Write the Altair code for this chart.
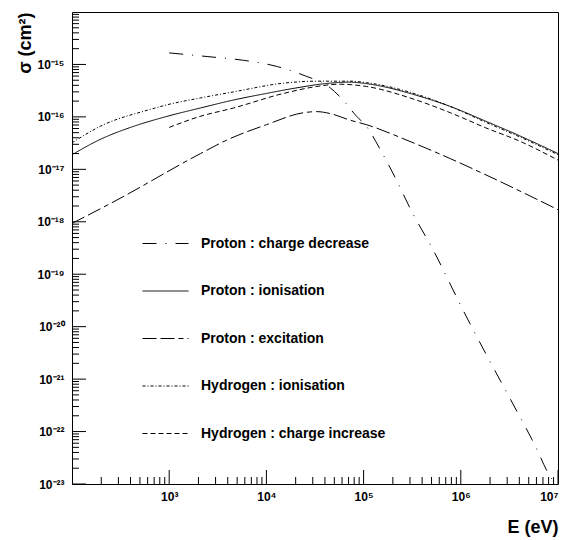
import altair as alt
import pandas as pd

# ---------------- data ----------------
series_names = [
    "Proton : charge decrease",
    "Proton : ionisation",
    "Proton : excitation",
    "Hydrogen : ionisation",
    "Hydrogen : charge increase",
]

# Proton : charge decrease
cd_E = [1e3, 2.5e3, 5.8e3, 1.3e4, 2.6e4, 4.2e4, 6e4, 8.5e4, 1.07e5, 1.5e5,
        2.0e5, 3.2e5, 5.2e5, 1.05e6, 1.8e6, 3.4e6, 5.9e6, 8.1e6, 9.5e6]
cd_sigma = [1.66e-15, 1.41e-15, 1.20e-15, 9.1e-16, 5.9e-16, 4.0e-16, 2.2e-16,
            1.02e-16, 6.6e-17, 2.3e-17, 8.5e-18, 1.45e-18, 2.9e-19, 2.1e-20,
            3.1e-21, 3.5e-22, 5.1e-23, 1.5e-23, 1.0e-23]

# Proton : ionisation
pi_E = [1e2, 2e2, 4e2, 1e3, 2.1e3, 4.6e3, 1e4, 2e4, 4e4, 7e4, 1.07e5, 1.8e5,
        3e5, 7.8e5, 1.8e6, 4.1e6, 1e7]
pi_sigma = [1.9e-17, 3.8e-17, 6.3e-17, 1.05e-16, 1.48e-16, 2.1e-16, 2.8e-16,
            3.55e-16, 4.3e-16, 4.6e-16, 4.3e-16, 3.6e-16, 2.8e-16, 1.58e-16,
            8.3e-17, 4.3e-17, 2.0e-17]

# Proton : excitation
pe_E = [1e2, 2.9e2, 2.1e3, 3.9e3, 1e4, 2.4e4, 3.3e4, 4.6e4, 7.2e4, 1.07e5,
        3e5, 7.8e5, 2e6, 1e7]
pe_sigma = [9.3e-19, 2.6e-18, 2.0e-17, 3.6e-17, 7.1e-17, 1.2e-16, 1.26e-16,
            1.15e-16, 8.7e-17, 7.1e-17, 3.4e-17, 1.6e-17, 7.2e-18, 1.7e-18]

# Hydrogen : ionisation
hi_E = [1e2, 1.95e2, 6.3e2, 9.5e2, 2.1e3, 4.6e3, 1.5e4, 3.3e4, 7.2e4, 1.07e5,
        3e5, 7.8e5, 1.8e6, 4.1e6, 1e7]
hi_sigma = [3.2e-17, 6.6e-17, 1.38e-16, 1.7e-16, 2.3e-16, 3.0e-16, 4.4e-16,
            4.8e-16, 4.8e-16, 4.5e-16, 2.95e-16, 1.58e-16, 7.9e-17, 4.1e-17,
            1.9e-17]

# Hydrogen : charge increase
hc_E = [1e3, 2e3, 4.6e3, 1.5e4, 3.3e4, 5.6e4, 1.07e5, 3e5, 7.8e5, 1.8e6,
        4.1e6, 1e7]
hc_sigma = [6.3e-17, 1.0e-16, 1.48e-16, 2.8e-16, 3.8e-16, 4.2e-16, 3.8e-16,
            2.3e-16, 1.2e-16, 6.2e-17, 3.4e-17, 1.5e-17]

# axis ticks and labels
x_major = [1e3, 1e4, 1e5, 1e6, 1e7]
x_labels = ["10³", "10⁴", "10⁵", "10⁶", "10⁷"]
y_major = [1e-23, 1e-22, 1e-21, 1e-20, 1e-19, 1e-18, 1e-17, 1e-16, 1e-15]
y_labels = ["10⁻²³", "10⁻²²", "10⁻²¹", "10⁻²⁰", "10⁻¹⁹", "10⁻¹⁸", "10⁻¹⁷",
            "10⁻¹⁶", "10⁻¹⁵"]
minor_mult = [2, 3, 4, 5, 6, 7, 8, 9]
x_decades = [1e2, 1e3, 1e4, 1e5, 1e6]
y_decades = [1e-23, 1e-22, 1e-21, 1e-20, 1e-19, 1e-18, 1e-17, 1e-16, 1e-15]

# ---------------- build tables ----------------
rows = []
for name, E, S in [
    (series_names[0], cd_E, cd_sigma),
    (series_names[1], pi_E, pi_sigma),
    (series_names[2], pe_E, pe_sigma),
    (series_names[3], hi_E, hi_sigma),
    (series_names[4], hc_E, hc_sigma),
]:
    for e, s in zip(E, S):
        rows.append({"series": name, "E": e, "sigma": s})
df = pd.DataFrame(rows)

x_minor = [d * m for d in x_decades for m in minor_mult]
y_minor = [d * m for d in y_decades for m in minor_mult]

W, H = 486, 472
FONT = "Liberation Sans"

xscale = alt.Scale(type="log", domain=[1e2, 1e7], nice=False)
yscale = alt.Scale(type="log", domain=[1e-23, 1e-14], nice=False)

dashes = [[14, 9, 1, 9], [1, 0], [14, 4, 14, 4, 5, 4], [3, 2, 1, 2], [5, 3]]

x_expr = "[" + ",".join("'%s'" % s for s in x_labels) + "][round(log(datum.value)/LN10) - 3]"
y_expr = "[" + ",".join("'%s'" % s for s in y_labels) + "][round(log(datum.value)/LN10) + 23]"

x_axis = alt.Axis(values=x_major, labelExpr=x_expr, labelFlush=1,
                  labelOverlap=False, labelPadding=7, title="E (eV)",
                  titleX=W, titleY=48, titleAlign="right",
                  titleBaseline="alphabetic", titleFontSize=18,
                  titleFont=FONT, titleFontWeight="bold", titleColor="black")
y_axis = alt.Axis(values=y_major, labelExpr=y_expr, labelFlush=False,
                  labelOverlap=False, labelPadding=8, title="σ (cm²)",
                  titleAngle=270, titleX=-42, titleY=0,
                  titleAlign="right", titleBaseline="alphabetic",
                  titleFontSize=18, titleFont=FONT,
                  titleFontWeight="bold", titleColor="black")

lines = alt.Chart(df).mark_line(color="black", strokeWidth=1, clip=True,
                                interpolate="monotone").encode(
    x=alt.X("E:Q", scale=xscale, axis=x_axis, title="E (eV)"),
    y=alt.Y("sigma:Q", scale=yscale, axis=y_axis, title="σ (cm²)"),
    strokeDash=alt.StrokeDash(
        "series:N",
        scale=alt.Scale(domain=series_names, range=dashes),
        legend=alt.Legend(orient="none", legendX=70, legendY=208, title=None,
                          symbolType="stroke", symbolSize=2116,
                          symbolStrokeWidth=1, symbolStrokeColor="black",
                          labelFont=FONT, labelFontWeight="bold",
                          labelFontSize=14, labelColor="black",
                          labelOffset=12, rowPadding=16.5, padding=0,
                          labelLimit=400),
    ),
)

xt_major = alt.Chart(pd.DataFrame({"v": x_major})).mark_rule(
    color="black", strokeWidth=1).encode(
    x=alt.X("v:Q", scale=xscale, axis=x_axis, title="E (eV)"),
    y=alt.value(H), y2=alt.value(H - 14))
xt_minor = alt.Chart(pd.DataFrame({"v": x_minor})).mark_rule(
    color="black", strokeWidth=1).encode(
    x=alt.X("v:Q", scale=xscale, axis=x_axis, title="E (eV)"),
    y=alt.value(H), y2=alt.value(H - 7))
yt_major = alt.Chart(pd.DataFrame({"v": y_major})).mark_rule(
    color="black", strokeWidth=1).encode(
    y=alt.Y("v:Q", scale=yscale, axis=y_axis, title="σ (cm²)"),
    x=alt.value(0), x2=alt.value(14))
yt_minor = alt.Chart(pd.DataFrame({"v": y_minor})).mark_rule(
    color="black", strokeWidth=1).encode(
    y=alt.Y("v:Q", scale=yscale, axis=y_axis, title="σ (cm²)"),
    x=alt.value(0), x2=alt.value(7))

chart = alt.layer(lines, xt_major, xt_minor, yt_major, yt_minor).properties(
    width=W, height=H,
    autosize=alt.AutoSizeParams(type="none"),
    padding={"left": 64, "top": 4, "right": 1, "bottom": 54},
    background="white",
).configure_view(stroke="black", strokeWidth=1).configure_axis(
    domain=False, grid=False, ticks=False, labelFont=FONT,
    labelFontWeight="bold", labelFontSize=12, labelColor="black",
)

chart.save("out.html", embed_options={"renderer": "svg", "actions": False})
